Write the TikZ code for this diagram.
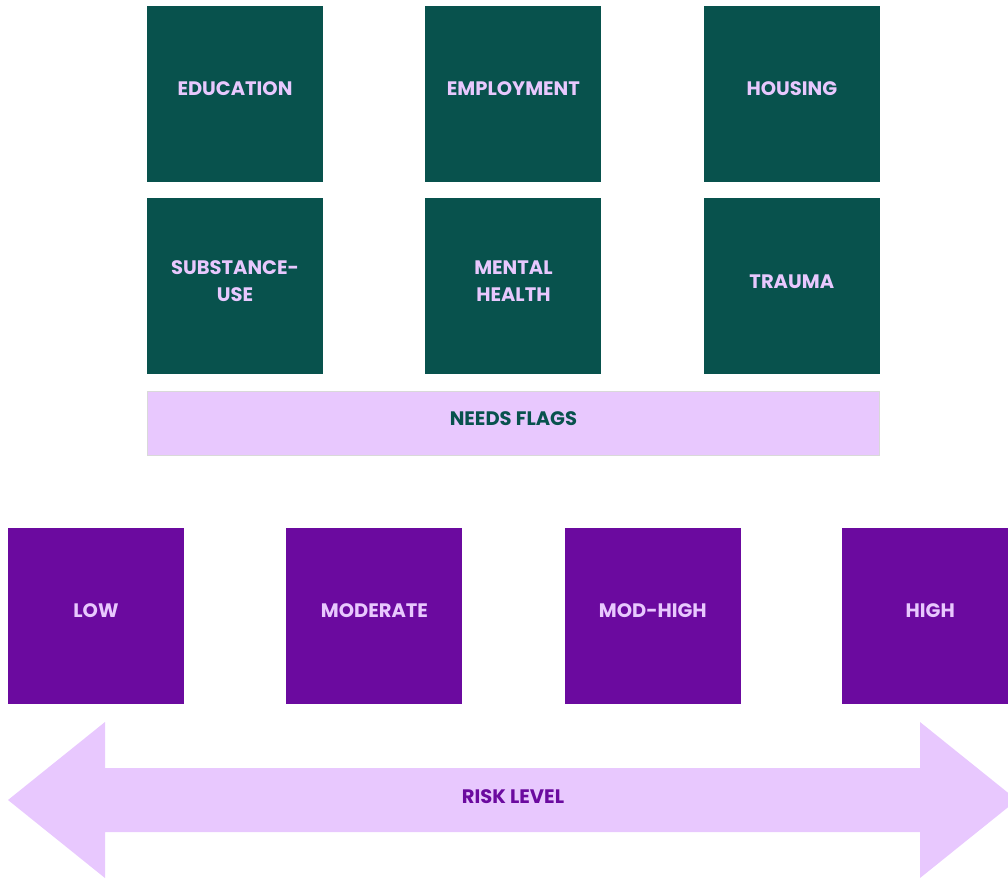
\documentclass[tikz,border=0pt]{standalone}
\usepackage{fontspec}
\setmainfont{Poppins}
\usetikzlibrary{positioning}
\definecolor{needteal}{HTML}{08524D}
\definecolor{lilac}{HTML}{E8C8FE}
\definecolor{riskpurple}{HTML}{6B0A9F}
\tikzset{
        base/.style={align=center, inner sep=0pt, minimum width=176pt,
                     minimum height=176pt, text depth=10pt,
                     font=\fontsize{19.5}{27}\selectfont\bfseries},
        needbox/.style={base, fill=needteal, text=lilac},
        riskbox/.style={base, fill=riskpurple, text=lilac},
        flagbar/.style={fill=lilac, draw=black!15, inner sep=0pt,
                        minimum width=732pt, minimum height=64pt,
                        text depth=8pt, text=needteal,
                        font=\fontsize{19.5}{27}\selectfont\bfseries},
        riskarrow/.style={fill=lilac},
}

\begin{document}
\begin{tikzpicture}[x=1pt, y=-1pt]
    \clip (0,0) rectangle (1008,879);

    \node[needbox] (edu) at (235,94) {EDUCATION};
    \node[needbox, right=102pt of edu] (emp) {EMPLOYMENT};
    \node[needbox, right=102pt of emp] (hou) {HOUSING};

    \node[needbox, below=16pt of edu] (sub) {SUBSTANCE-\\USE};
    \node[needbox, below=16pt of emp] (mh) {MENTAL\\HEALTH};
    \node[needbox, below=16pt of hou] (tra) {TRAUMA};

    \node[flagbar, below=16pt of mh] (flags) {NEEDS FLAGS};

    \node[riskbox] (low) at (96,616) {LOW};
    \node[riskbox, right=102pt of low] (mod) {MODERATE};
    \node[riskbox, right=102pt of mod] (modhigh) {MOD-HIGH};
    \node[riskbox, right=101pt of modhigh] (high) {HIGH};

    % double arrow for the risk scale
    \fill[riskarrow] (8,800) -- (105,722) -- (105,768) -- (920,768)
        -- (920,722) -- (1017,800) -- (920,878) -- (920,832)
        -- (105,832) -- (105,878) -- cycle;
    \node[text=riskpurple, font=\fontsize{19.5}{27}\selectfont\bfseries]
        (risk) at (513,797) {RISK LEVEL};
\end{tikzpicture}
\end{document}
